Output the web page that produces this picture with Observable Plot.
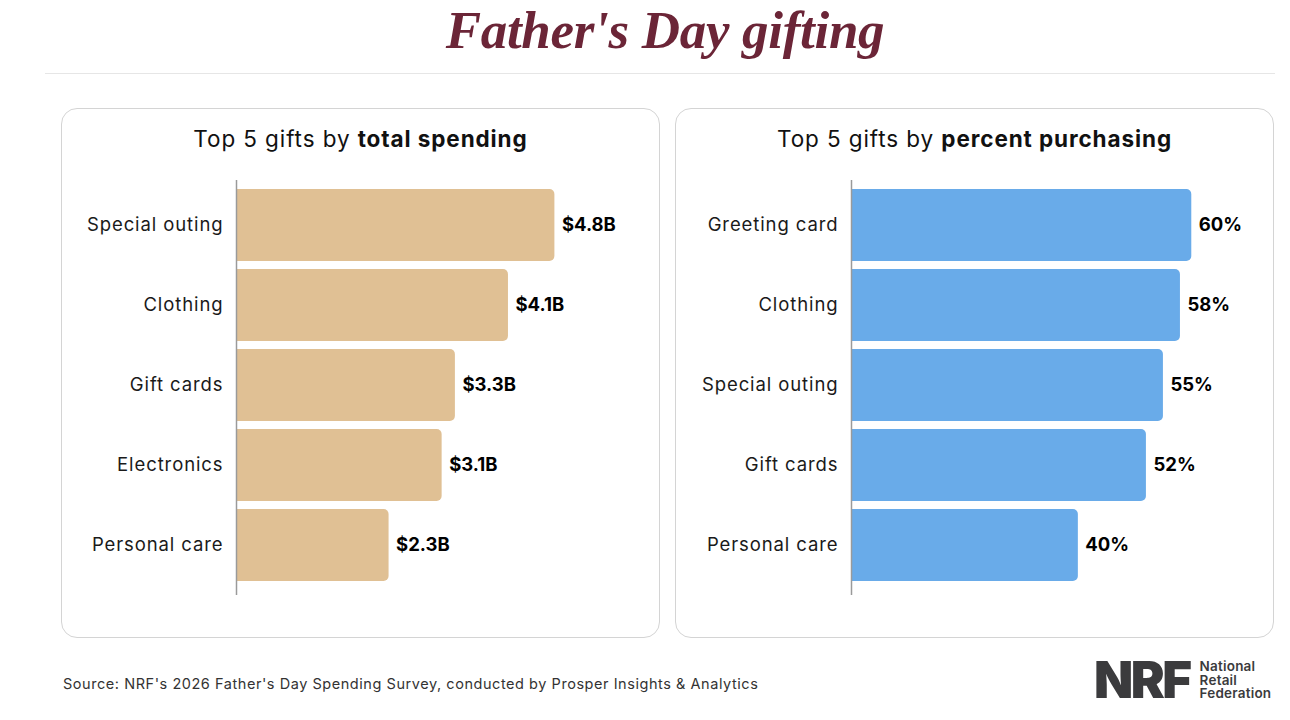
<!DOCTYPE html>
<html>
<head>
<meta charset="utf-8">
<script src="https://cdn.jsdelivr.net/npm/d3@7"></script>
<script src="https://cdn.jsdelivr.net/npm/@observablehq/plot@0.6"></script>
<style>
  body { margin: 0; background: #fff; font-family: Inter, "Open Sans", sans-serif; color: #111; }
  #page { position: relative; width: 1290px; height: 720px; overflow: hidden; }
  #title { position: absolute; left: 0; width: 1330px; top: 0px; text-align: center;
    font-family: "Liberation Serif", serif; font-style: italic; font-weight: 700;
    font-size: 53px; color: #6b2537; letter-spacing: -0.3px; }
  #rule { position: absolute; left: 45px; width: 1230px; top: 73px; height: 1px; background: #e6e6e6; }
  .panel { position: absolute; top: 108px; width: 597px; height: 528px; border: 1px solid #d4d4d4; border-radius: 16px; }
  .panel h2 { position: absolute; left: 0; right: 0; top: 16px; margin: 0; text-align: center;
    font-size: 22.5px; font-weight: 400; color: #111; letter-spacing: 0.9px; }
  .panel h2 b { font-weight: 700; }
  .panel .plot { position: absolute; left: 0; top: 59px; }
  .panel .plot svg g[aria-label="y-axis tick label"] text { letter-spacing: 0.9px; }
  #source { position: absolute; left: 63px; top: 675px; font-size: 14.5px; color: #333; letter-spacing: 0.55px; }
  #logo { position: absolute; left: 1094px; top: 660px; display: flex; align-items: center; color: #3b3b3d; }
  #logo .mark { font-family: Inter, sans-serif; font-weight: 900; font-size: 51px; letter-spacing: -2.5px; line-height: 40px; }
  #logo .name { margin-left: 10px; font-weight: 600; font-size: 13.5px; line-height: 13.5px; letter-spacing: 0.2px; }
</style>
</head>
<body>
<div id="page">
  <div id="title">Father's Day gifting</div>
  <div id="rule"></div>
  <div class="panel" id="left" style="left:61px"><h2>Top 5 gifts by <b>total spending</b></h2><div class="plot"></div></div>
  <div class="panel" id="right" style="left:675px"><h2>Top 5 gifts by <b>percent purchasing</b></h2><div class="plot"></div></div>
  <div id="source">Source: NRF's 2026 Father's Day Spending Survey, conducted by Prosper Insights &amp; Analytics</div>
  <div id="logo"><span class="mark">NRF</span><span class="name">National<br>Retail<br>Federation</span></div>
</div>
<script>
// Top gifts by total spending (billions of dollars)
const spendGifts = ["Special outing", "Clothing", "Gift cards", "Electronics", "Personal care"];
const spendValues = [4.8, 4.1, 3.3, 3.1, 2.3];

// Top gifts by share of shoppers purchasing (percent)
const pctGifts = ["Greeting card", "Clothing", "Special outing", "Gift cards", "Personal care"];
const pctValues = [60, 58, 55, 52, 40];

function gift_chart(gifts, values, maxX, color, fmt, marginLeft) {
  const rows = gifts.map((g, i) => ({gift: g, value: values[i]}));
  return Plot.plot({
    width: 597,
    height: 437,
    marginLeft,
    marginRight: 25,
    marginTop: 12,
    marginBottom: 10,
    style: {fontFamily: "Inter, 'Open Sans', sans-serif", color: "#111", background: "transparent", overflow: "visible"},
    x: {domain: [0, maxX], axis: null},
    y: {domain: gifts, paddingInner: 0.1, paddingOuter: 0.14, align: 0.37, label: null},
    marks: [
      // bars extend slightly left of zero and are clipped, so only the right corners show rounded
      Plot.barX(rows, {y: "gift", x: "value", fill: color, rx: 5, insetLeft: -10, clip: true}),
      Plot.ruleX([0], {stroke: "#9a9a9a", strokeWidth: 1.5}),
      Plot.text(rows, {y: "gift", x: "value", text: d => fmt(d.value), dx: 7, textAnchor: "start",
        fontSize: 18.5, fontWeight: 700, fill: "#000"}),
      Plot.axisY({tickSize: 0, tickPadding: 13, fontSize: 18.5, label: null, fill: "#1a1a1a"})
    ]
  });
}

document.querySelector("#left .plot").append(
  gift_chart(spendGifts, spendValues, 6, "#e0c094", v => `$${v.toFixed(1)}B`, 174));
document.querySelector("#right .plot").append(
  gift_chart(pctGifts, pctValues, 70, "#69abe9", v => `${v}%`, 175));
</script>
</body>
</html>
